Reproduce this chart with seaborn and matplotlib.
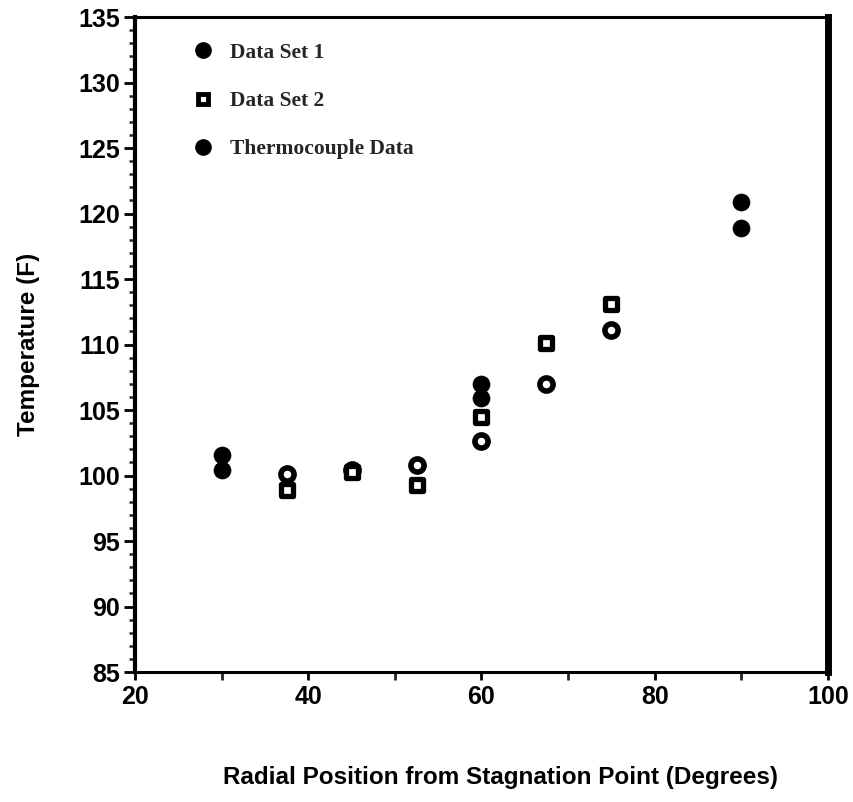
import matplotlib
matplotlib.use("Agg")
import matplotlib.pyplot as plt
from matplotlib.lines import Line2D
from matplotlib.ticker import MultipleLocator
import seaborn as sns
import pandas as pd

sns.set_theme(style="white")
plt.rcParams["font.family"] = ["Liberation Sans", "DejaVu Sans"]

# Radial positions (degrees) and temperatures (F)
set1_x = [37.5, 45, 52.5, 60, 67.5, 75]
set1_y = [100.1, 100.4, 100.8, 102.6, 107.0, 111.1]

set2_x = [37.5, 45, 52.5, 60, 67.5, 75]
set2_y = [98.9, 100.3, 99.3, 104.5, 110.1, 113.1]

thermo_x = [30, 30, 60, 60, 90, 90]
thermo_y = [101.6, 100.4, 107.0, 105.9, 120.9, 118.9]

series_names = ["Data Set 1", "Data Set 2", "Thermocouple Data"]

df = pd.concat([
    pd.DataFrame({"pos": set1_x, "temp": set1_y, "series": series_names[0]}),
    pd.DataFrame({"pos": set2_x, "temp": set2_y, "series": series_names[1]}),
    pd.DataFrame({"pos": thermo_x, "temp": thermo_y, "series": series_names[2]}),
])

fig = plt.figure(figsize=(8.54, 8.02), dpi=100)
ax = fig.add_axes([0.158, 0.162, 0.8116, 0.8168])

# open circles
sns.scatterplot(data=df[df.series == series_names[0]], x="pos", y="temp", ax=ax,
                marker="o", s=90, facecolor="white", edgecolor="black",
                linewidth=4.0, legend=False, zorder=3)
# open squares
sns.scatterplot(data=df[df.series == series_names[1]], x="pos", y="temp", ax=ax,
                marker="s", s=70, facecolor="white", edgecolor="black",
                linewidth=3.8, legend=False, zorder=3)
# filled circles
sns.scatterplot(data=df[df.series == series_names[2]], x="pos", y="temp", ax=ax,
                marker="o", s=150, color="black", edgecolor="black",
                linewidth=0.5, legend=False, zorder=3)

ax.set_xlim(20, 100)
ax.set_ylim(85, 135)
ax.xaxis.set_major_locator(MultipleLocator(20))
ax.xaxis.set_minor_locator(MultipleLocator(10))
ax.yaxis.set_major_locator(MultipleLocator(5))
ax.yaxis.set_minor_locator(MultipleLocator(1))

ax.tick_params(axis="both", which="major", direction="out", color="black",
               labelsize=18, pad=3)
ax.tick_params(axis="y", which="major", length=8, width=2, left=True)
ax.tick_params(axis="y", which="minor", length=4, width=1.8, left=True)
ax.tick_params(axis="x", which="major", length=6, width=2, bottom=True)
ax.tick_params(axis="x", which="minor", length=6, width=2, bottom=True)
for lab in ax.get_xticklabels() + ax.get_yticklabels():
    lab.set_fontweight("bold")
    lab.set_color("black")

for side, w in [("left", 3), ("right", 5), ("top", 2.2), ("bottom", 2.2)]:
    ax.spines[side].set_visible(True)
    ax.spines[side].set_color("black")
    ax.spines[side].set_linewidth(w)

ax.set_xlabel("Radial Position from Stagnation Point (Degrees)", fontsize=17.5,
              fontweight="bold", color="black")
ax.xaxis.set_label_coords(0.527, -0.143)
ax.set_ylabel("Temperature (F)", fontsize=17.5, fontweight="bold", color="black")
ax.yaxis.set_label_coords(-0.137, 0.5)

handles = [
    Line2D([], [], linestyle="none", marker="o", markersize=11,
           markerfacecolor="black", markeredgecolor="black"),
    Line2D([], [], linestyle="none", marker="s", markersize=7,
           markerfacecolor="white", markeredgecolor="black", markeredgewidth=3.5),
    Line2D([], [], linestyle="none", marker="o", markersize=11,
           markerfacecolor="black", markeredgecolor="black"),
]
leg = ax.legend(handles, series_names, loc="upper left", frameon=False,
                bbox_to_anchor=(0.055, 0.99), labelspacing=1.3,
                handletextpad=0.75, handlelength=1.0,
                prop={"family": "Liberation Serif", "weight": "bold", "size": 15.5})

fig.savefig("out.png", dpi=100, facecolor="white")
